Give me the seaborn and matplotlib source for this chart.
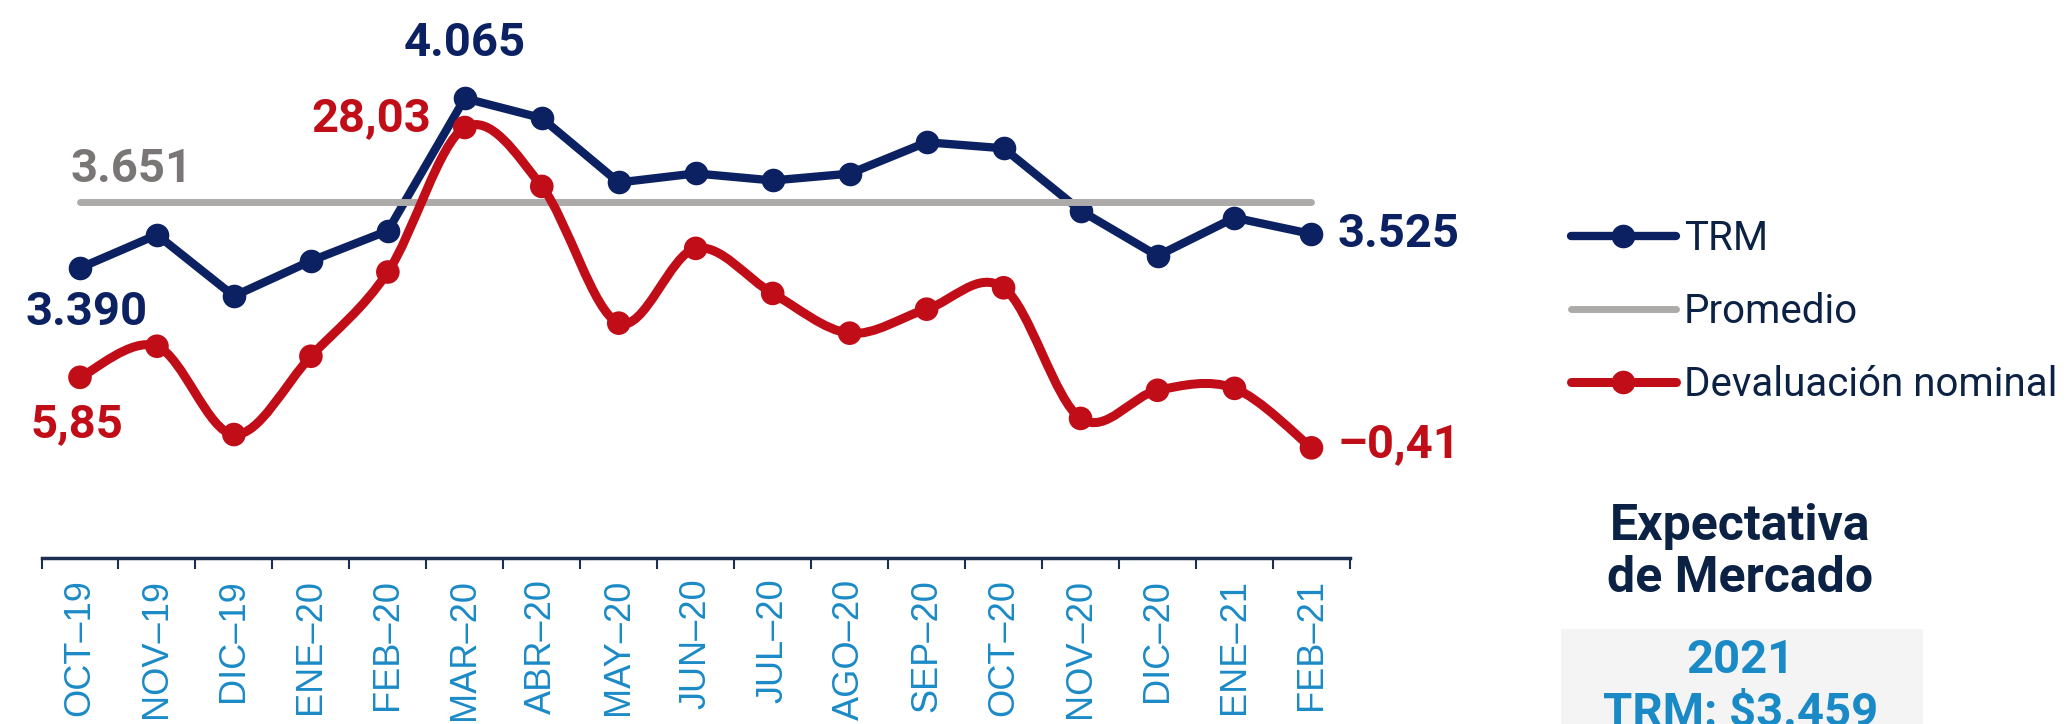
import numpy as np
import pandas as pd
import matplotlib
matplotlib.use("Agg")
import matplotlib.pyplot as plt
from matplotlib.path import Path
from matplotlib.patches import PathPatch, Rectangle
from matplotlib.lines import Line2D
import seaborn as sns

# datos
meses = ["OCT–19", "NOV–19", "DIC–19", "ENE–20", "FEB–20", "MAR–20", "ABR–20", "MAY–20",
         "JUN–20", "JUL–20", "AGO–20", "SEP–20", "OCT–20", "NOV–20", "DIC–20", "ENE–21", "FEB–21"]
trm = [3390, 3522, 3278, 3418, 3538, 4065, 3986, 3730, 3766, 3738, 3765, 3890, 3866, 3618, 3438, 3590, 3525]
devaluacion = [5.85, 8.61, 0.77, 7.72, 15.2, 28.03, 22.8, 10.66, 17.3, 13.3, 9.77, 11.9, 13.8, 2.2, 4.7, 4.87, -0.41]
promedio = 3651
expectativa_anio = "2021"
expectativa_trm = "TRM: \\$3.459"

navy = "#0b2161"
red = "#c00d17"
gray = "#adaaaa"
blue = "#1a8ac6"
dark = "#0c2244"

sns.set_style("white")
plt.rcParams["font.family"] = ["Roboto", "DejaVu Sans"]

df = pd.DataFrame({"idx": np.arange(len(meses)), "mes": meses, "trm": trm, "dev": devaluacion})

fig = plt.figure(figsize=(20.7, 7.24), dpi=100)
ax = fig.add_axes([0.02005, 0.2293, 0.6321, 0.7707])
ax2 = ax.twinx()

# TRM y promedio
sns.lineplot(data=df, x="idx", y="trm", ax=ax, color=navy, lw=6, marker="o", markersize=17,
             markeredgewidth=0, zorder=3)
sns.lineplot(x=df["idx"], y=np.full(len(df), promedio), ax=ax, color=gray, lw=5,
             solid_capstyle="round", zorder=4)


def curva_suave(x, y):
    # curva tipo "linea suavizada" de Excel (bezier por los puntos)
    x = np.asarray(x, float)
    y = np.asarray(y, float)
    n = len(x)
    verts = [(x[0], y[0])]
    codes = [Path.MOVETO]
    for i in range(n - 1):
        i0 = max(i - 1, 0)
        i3 = min(i + 2, n - 1)
        c1 = (x[i] + (x[i + 1] - x[i0]) / 6, y[i] + (y[i + 1] - y[i0]) / 6)
        c2 = (x[i + 1] - (x[i3] - x[i]) / 6, y[i + 1] - (y[i3] - y[i]) / 6)
        verts += [c1, c2, (x[i + 1], y[i + 1])]
        codes += [Path.CURVE4] * 3
    return Path(verts, codes)


ax2.add_patch(PathPatch(curva_suave(df["idx"], df["dev"]), facecolor="none", edgecolor=red,
                        lw=6.5, capstyle="round", joinstyle="round", zorder=3))
sns.scatterplot(data=df, x="idx", y="dev", ax=ax2, color=red, s=17 ** 2, edgecolor="none", zorder=4)

ax.set_xlim(-0.5, len(meses) - 0.5)
ax.set_ylim(2236, 4456)
ax2.set_ylim(-10.19, 39.35)

for a in (ax, ax2):
    a.set_xlabel("")
    a.set_ylabel("")
    a.set_yticks([])
    for s in ["top", "left", "right"]:
        a.spines[s].set_visible(False)
ax2.spines["bottom"].set_visible(False)
ax.spines["bottom"].set_color("#1c2f50")
ax.spines["bottom"].set_linewidth(2.5)

ax.set_xticks(df["idx"])
ax.set_xticklabels(meses, family="Liberation Sans")
ax.set_xticks(np.arange(-0.5, len(meses)), minor=True)
ax.tick_params(axis="x", which="major", bottom=True, length=0, pad=15, labelsize=26,
               labelcolor=blue, labelrotation=90)
ax.tick_params(axis="x", which="minor", bottom=True, length=8, width=1.5, color="#1c2f50", direction="out")

# etiquetas de valores
lab = dict(fontsize=34, fontweight="bold", textcoords="offset points", va="center")
ax.annotate("4.065", (df["idx"][5], trm[5]), xytext=(0, 40), color=navy, ha="center", **lab)
ax.annotate("3.390", (df["idx"][0], trm[0]), xytext=(5, -32), color=navy, ha="center", **lab)
ax.annotate("3.525", (df["idx"].iloc[-1], trm[-1]), xytext=(19, 0), color=navy, ha="left", **lab)
ax.annotate("3.651", (df["idx"][0], promedio), xytext=(37, 24), color="#7a7676", ha="center", **lab)
ax2.annotate("28,03", (df["idx"][5], devaluacion[5]), xytext=(-67, 7), color=red, ha="center", **lab)
ax2.annotate("5,85", (df["idx"][0], devaluacion[0]), xytext=(-2, -34), color=red, ha="center", **lab)
ax2.annotate("–0,41", (df["idx"].iloc[-1], devaluacion[-1]), xytext=(19, 3), color=red, ha="left", **lab)

# leyenda
handles = [
    Line2D([], [], color=navy, lw=6, marker="o", markersize=17, markeredgewidth=0, solid_capstyle="round"),
    Line2D([], [], color=gray, lw=5, solid_capstyle="round"),
    Line2D([], [], color=red, lw=6.5, marker="o", markersize=17, markeredgewidth=0, solid_capstyle="round"),
]
fig.legend(handles, ["TRM", "Promedio", "Devaluación nominal"], loc="upper left",
           bbox_to_anchor=(0.759, 0.697), frameon=False, fontsize=29, handlelength=2.6,
           handletextpad=0.2, labelspacing=0.84, borderpad=0, borderaxespad=0, labelcolor=dark)

# recuadro expectativa
fig.patches.append(Rectangle((0.7541, 0), 0.1749, 0.1312, transform=fig.transFigure,
                             facecolor="#f4f4f4", edgecolor="none", zorder=0))
fig.text(0.8406, 0.2541, "Expectativa", ha="center", va="baseline", fontsize=36, fontweight="bold", color=dark)
fig.text(0.8406, 0.1823, "de Mercado", ha="center", va="baseline", fontsize=36, fontweight="bold", color=dark)
fig.text(0.8410, 0.0704, expectativa_anio, ha="center", va="baseline", fontsize=34, fontweight="bold", color=blue)
fig.text(0.8410, -0.003, expectativa_trm, ha="center", va="baseline", fontsize=34, fontweight="bold", color=blue)

fig.savefig("out.png", dpi=100)
